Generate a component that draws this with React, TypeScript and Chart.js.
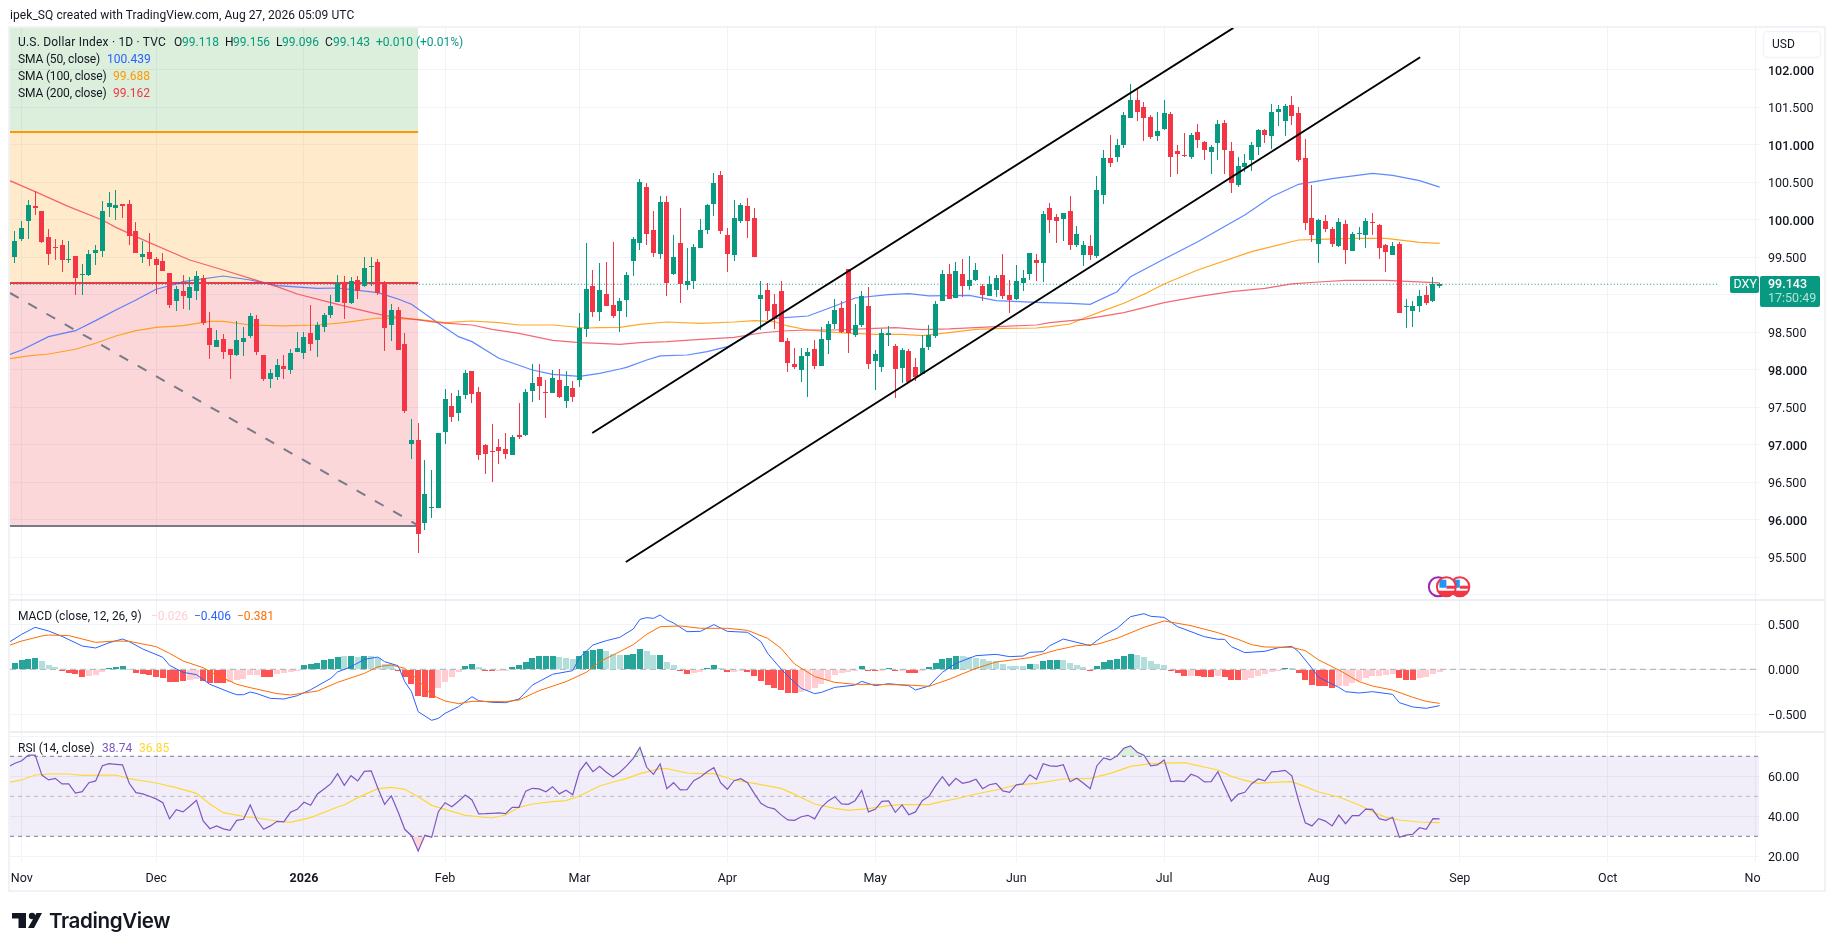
import { useEffect, useRef } from "react"
import { Chart, registerables } from "chart.js"

// Register Chart.js components
Chart.register(...registerables)

const FONT = "Roboto, sans-serif"
const INK = "#131722"
const GRID = "#f0f3fa"
const UP = "#089981"
const DOWN = "#f23645"

// Daily candles. Bar 0 is the first candle on the left.
const opens = [
  99.5, 99.75, 99.98, 100.19, 100.12, 99.77, 99.64, 99.67, 99.46, 99.52,
  99.26, 99.27, 99.56, 99.58, 100.17, 100.16, 100.21, 100.21, 99.85, 99.5,
  99.57, 99.48, 99.45, 99.29, 98.92, 99.05, 98.96, 99.05, 99.23, 98.56,
  98.31, 98.41, 98.28, 98.2, 98.37, 98.45, 98.68, 98.2, 97.88, 97.91,
  98.05, 98.0, 98.24, 98.23, 98.49, 98.4, 98.57, 98.73, 98.91, 99.16,
  98.89, 99.2, 99.12, 99.38, 99.44, 99.16, 98.6, 98.8, 98.35, 97.01,
  97.07, 95.96, 96.16, 96.16, 97.17, 97.52, 97.43, 97.67, 97.99, 97.71,
  97.0, 96.92, 96.97, 96.95, 96.87, 97.13, 97.13, 97.72, 97.91, 97.71,
  97.69, 97.87, 97.59, 97.76, 97.87, 98.55, 99.12, 98.77, 99.01, 98.87,
  98.79, 98.93, 99.45, 99.69, 100.44, 99.87, 99.55, 100.24, 99.28, 99.69,
  99.13, 99.19, 99.63, 99.87, 100.21, 100.6, 99.8, 99.53, 99.99, 100.19,
  100.03, 98.95, 99.07, 98.88, 99.05, 98.39, 98.08, 98.0, 98.19, 98.28,
  98.05, 98.4, 98.61, 98.83, 99.35, 98.47, 98.6, 98.85, 98.12, 98.04,
  98.47, 98.32, 98.03, 98.25, 98.04, 97.95, 98.31, 98.45, 98.92, 99.28,
  98.96, 99.28, 99.12, 99.2, 99.12, 98.99, 99.07, 99.27, 99.0, 98.95,
  99.16, 99.28, 99.47, 99.43, 100.16, 100.04, 100.01, 100.12, 99.67, 99.53,
  99.65, 99.52, 100.33, 100.83, 100.84, 101.0, 101.36, 101.6, 101.51, 101.37,
  101.12, 101.21, 101.41, 100.92, 100.87, 100.84, 101.17, 101.04, 100.91, 101.03,
  101.29, 100.92, 100.47, 100.71, 100.8, 100.97, 101.2, 101.12, 101.44, 101.32,
  101.53, 101.43, 100.83, 100.03, 99.68, 99.99, 99.88, 99.65, 99.95, 99.59,
  99.81, 99.8, 99.97, 99.93, 99.67, 99.53, 99.68, 98.84, 98.79, 98.85,
  99.0, 98.92, 99.118,
]
const highs = [
  99.85, 99.98, 100.27, 100.38, 100.12, 99.88, 99.75, 99.73, 99.72, 99.52,
  99.41, 99.6, 99.67, 100.25, 100.37, 100.4, 100.21, 100.27, 99.97, 99.72,
  99.82, 99.51, 99.56, 99.29, 99.12, 99.27, 99.24, 99.32, 99.27, 98.77,
  98.53, 98.48, 98.28, 98.65, 98.57, 98.76, 98.73, 98.2, 98.01, 98.15,
  98.2, 98.28, 98.51, 98.51, 98.87, 98.64, 98.76, 99.0, 99.27, 99.25,
  99.24, 99.25, 99.5, 99.5, 99.48, 99.18, 98.88, 98.84, 98.49, 97.35,
  97.29, 96.8, 96.67, 97.16, 97.75, 97.69, 97.73, 98.0, 97.99, 97.77,
  97.01, 97.28, 97.08, 97.16, 97.13, 97.56, 97.75, 98.08, 98.08, 97.87,
  98.0, 98.01, 97.99, 97.85, 98.76, 99.69, 99.33, 99.42, 99.44, 99.7,
  98.96, 99.31, 99.77, 100.55, 100.49, 100.12, 100.32, 100.32, 99.8, 100.16,
  99.63, 99.68, 100.01, 100.21, 100.63, 100.65, 99.89, 100.27, 100.23, 100.29,
  100.16, 99.19, 99.16, 99.01, 99.19, 98.43, 98.29, 98.29, 98.29, 98.4,
  98.57, 98.65, 98.95, 98.92, 99.35, 98.88, 99.05, 99.11, 98.27, 98.55,
  98.59, 98.35, 98.29, 98.28, 98.16, 98.47, 98.6, 98.92, 99.33, 99.41,
  99.44, 99.48, 99.52, 99.43, 99.15, 99.25, 99.27, 99.55, 99.2, 99.4,
  99.33, 99.56, 99.55, 100.12, 100.23, 100.08, 100.09, 100.32, 99.92, 99.72,
  99.8, 100.59, 100.93, 101.13, 101.08, 101.44, 101.81, 101.76, 101.57, 101.4,
  101.44, 101.6, 101.44, 101.0, 101.16, 101.16, 101.28, 101.05, 101.0, 101.33,
  101.33, 101.04, 100.84, 100.88, 101.04, 101.21, 101.21, 101.55, 101.53, 101.55,
  101.65, 101.51, 101.08, 100.47, 100.01, 100.07, 99.91, 100.03, 100.0, 99.84,
  99.91, 100.03, 100.09, 99.95, 99.68, 99.71, 99.71, 98.95, 98.92, 99.07,
  99.12, 99.24, 99.156,
]
const lows = [
  99.43, 99.72, 99.74, 100.07, 99.69, 99.4, 99.46, 99.3, 99.43, 99.0,
  99.0, 99.25, 99.4, 99.51, 100.04, 100.0, 100.02, 99.67, 99.56, 99.42,
  99.39, 99.01, 99.32, 98.83, 98.78, 98.81, 98.8, 98.93, 98.6, 98.15,
  98.3, 98.15, 97.88, 98.19, 98.19, 98.43, 98.2, 97.85, 97.76, 97.87,
  97.88, 97.95, 98.24, 98.15, 98.25, 98.17, 98.51, 98.69, 98.91, 98.68,
  98.88, 98.95, 99.1, 99.12, 99.0, 98.25, 98.39, 98.27, 97.43, 96.81,
  95.56, 95.87, 96.03, 96.16, 97.01, 97.31, 97.32, 97.61, 97.56, 96.8,
  96.61, 96.51, 96.75, 96.81, 96.87, 97.08, 97.12, 97.57, 97.6, 97.36,
  97.69, 97.63, 97.49, 97.57, 97.77, 98.44, 98.71, 98.65, 98.85, 98.69,
  98.51, 98.71, 99.25, 99.6, 99.67, 99.51, 99.48, 98.99, 99.27, 98.89,
  99.07, 99.08, 99.63, 99.81, 100.05, 99.81, 99.31, 99.45, 99.96, 99.76,
  99.51, 98.53, 98.67, 98.55, 98.37, 97.97, 98.01, 97.84, 97.64, 98.01,
  98.05, 98.21, 98.55, 98.49, 98.23, 98.44, 98.57, 98.01, 97.73, 97.97,
  98.32, 97.63, 97.83, 97.84, 97.85, 97.95, 98.27, 98.43, 98.92, 98.95,
  98.96, 98.97, 99.07, 99.19, 98.92, 98.99, 98.97, 98.95, 98.76, 98.93,
  99.05, 99.2, 99.19, 99.17, 99.83, 99.69, 99.72, 99.6, 99.64, 99.39,
  99.47, 99.49, 100.21, 100.71, 100.77, 100.96, 101.36, 101.32, 101.05, 101.08,
  101.05, 101.2, 100.57, 100.61, 100.84, 100.81, 100.96, 100.8, 100.61, 100.8,
  100.61, 100.36, 100.44, 100.64, 100.65, 100.87, 101.03, 100.95, 101.25, 101.12,
  101.27, 100.77, 99.87, 99.71, 99.43, 99.84, 99.64, 99.64, 99.41, 99.59,
  99.73, 99.63, 99.8, 99.48, 99.31, 99.53, 98.76, 98.56, 98.57, 98.77,
  98.87, 98.91, 99.096,
]
const closes = [
  99.72, 99.89, 100.2, 100.16, 99.7, 99.55, 99.63, 99.46, 99.48, 99.23,
  99.28, 99.55, 99.6, 100.12, 100.22, 100.2, 100.19, 99.79, 99.56, 99.55,
  99.48, 99.4, 99.32, 98.87, 99.08, 98.99, 99.11, 99.25, 98.63, 98.33,
  98.4, 98.24, 98.2, 98.4, 98.43, 98.72, 98.24, 97.88, 97.96, 98.07,
  98.01, 98.23, 98.29, 98.44, 98.35, 98.6, 98.73, 98.85, 99.16, 98.89,
  99.19, 99.05, 99.36, 99.39, 99.03, 98.56, 98.8, 98.27, 97.45, 97.07,
  95.81, 96.35, 96.17, 97.16, 97.61, 97.37, 97.65, 97.96, 97.68, 96.87,
  96.88, 96.91, 96.92, 96.88, 97.11, 97.11, 97.71, 97.83, 97.79, 97.69,
  97.89, 97.64, 97.79, 97.64, 98.56, 99.08, 98.77, 99.07, 98.85, 98.72,
  98.92, 99.27, 99.75, 100.51, 99.81, 99.56, 100.24, 99.16, 99.51, 99.15,
  99.19, 99.64, 99.87, 100.2, 100.49, 99.85, 99.55, 100.03, 100.2, 99.99,
  99.51, 99.0, 98.79, 98.68, 98.37, 98.09, 98.04, 98.19, 98.24, 98.05,
  98.41, 98.61, 98.8, 98.51, 98.49, 98.6, 98.99, 98.08, 98.21, 98.49,
  98.49, 98.01, 98.27, 97.84, 97.91, 98.29, 98.47, 98.88, 99.28, 98.95,
  99.32, 99.12, 99.2, 99.33, 99.0, 99.15, 99.23, 98.99, 98.93, 99.19,
  99.23, 99.56, 99.43, 100.08, 100.0, 99.99, 100.09, 99.67, 99.81, 99.67,
  99.53, 100.4, 100.83, 100.76, 101.0, 101.4, 101.6, 101.44, 101.36, 101.11,
  101.19, 101.43, 100.84, 100.88, 100.85, 101.13, 101.07, 100.93, 100.97, 101.28,
  100.93, 100.49, 100.72, 100.76, 101.0, 101.2, 101.13, 101.44, 101.48, 101.52,
  101.39, 100.8, 99.96, 99.8, 100.0, 99.88, 99.68, 99.97, 99.6, 99.81,
  99.83, 99.99, 99.96, 99.63, 99.57, 99.65, 98.76, 98.85, 98.85, 98.99,
  98.89, 99.15, 99.143,
]

// Moving averages as [bar, value] readings
const sma50 = [
  [-1, 98.2], [1, 98.267], [5, 98.444], [9, 98.524], [12, 98.658], [15, 98.8], [18, 98.933], [21, 99.076], [24, 99.147],
  [25, 99.178], [31, 99.253], [35, 99.2], [39, 99.124], [45, 99.089], [48, 99.093], [54, 99.031], [57, 98.947],
  [59, 98.876], [63, 98.622], [66, 98.444], [68, 98.378], [72, 98.156], [77, 98.0], [80, 97.942], [84, 97.916],
  [87, 97.956], [90, 98.013], [91, 98.035], [94, 98.133], [96, 98.187], [100, 98.2], [103, 98.244], [106, 98.311],
  [109, 98.453], [113, 98.689], [118, 98.72], [122, 98.853], [125, 98.96], [130, 99.004], [133, 99.018], [136, 98.987],
  [142, 98.996], [146, 98.924], [152, 98.902], [157, 98.889], [160, 98.876], [164, 99.044], [166, 99.244], [171, 99.48],
  [176, 99.711], [183, 100.067], [187, 100.311], [191, 100.476], [196, 100.551], [202, 100.622], [205, 100.596],
  [209, 100.524], [212, 100.439],
]
const sma100 = [
  [-1, 98.147], [2, 98.187], [5, 98.213], [9, 98.276], [12, 98.356], [15, 98.453], [18, 98.524], [21, 98.569], [25, 98.591],
  [29, 98.649], [31, 98.649], [35, 98.6], [40, 98.587], [45, 98.6], [49, 98.631], [54, 98.693], [60, 98.676], [64, 98.631],
  [68, 98.653], [72, 98.631], [75, 98.6], [80, 98.6], [85, 98.56], [87, 98.564], [90, 98.569], [93, 98.609], [97, 98.64],
  [102, 98.622], [107, 98.64], [110, 98.658], [113, 98.644], [115, 98.587], [118, 98.533], [122, 98.502], [125, 98.489],
  [128, 98.476], [132, 98.476], [135, 98.458], [139, 98.498], [143, 98.542], [147, 98.556], [152, 98.56], [154, 98.578],
  [157, 98.613], [159, 98.689], [162, 98.791], [165, 98.889], [168, 99.009], [171, 99.147], [176, 99.333], [184, 99.578],
  [187, 99.644], [191, 99.733], [194, 99.742], [199, 99.756], [204, 99.756], [209, 99.702], [212, 99.688],
]
const sma200 = [
  [-1, 100.533], [3, 100.378], [8, 100.178], [13, 100.0], [15, 99.902], [20, 99.698], [26, 99.467], [31, 99.333], [35, 99.222],
  [39, 99.111], [42, 99.013], [47, 98.898], [51, 98.809], [55, 98.724], [60, 98.667], [63, 98.631], [68, 98.6], [71, 98.542],
  [75, 98.489], [80, 98.396], [84, 98.364], [87, 98.355], [90, 98.342], [93, 98.364], [97, 98.378], [102, 98.409], [107, 98.436],
  [111, 98.493], [114, 98.52], [118, 98.533], [122, 98.533], [127, 98.551], [131, 98.564], [135, 98.538], [139, 98.547],
  [146, 98.578], [152, 98.6], [154, 98.631], [159, 98.676], [165, 98.764], [171, 98.898], [176, 98.978], [181, 99.044],
  [186, 99.089], [190, 99.147], [194, 99.173], [198, 99.196], [204, 99.196], [212, 99.162],
]

// MACD pane
const macdHist = [
  0.074, 0.101, 0.119, 0.13, 0.093, 0.052, 0.03, -0.015, -0.037, -0.056,
  -0.082, -0.071, -0.06, -0.026, 0.015, 0.026, 0.041, 0.007, -0.037, -0.056,
  -0.067, -0.082, -0.101, -0.138, -0.138, -0.134, -0.123, -0.104, -0.127, -0.149,
  -0.149, -0.149, -0.142, -0.115, -0.104, -0.06, -0.06, -0.082, -0.082, -0.056,
  -0.045, -0.026, -0.004, 0.045, 0.06, 0.074, 0.101, 0.119, 0.142, 0.145,
  0.153, 0.142, 0.153, 0.153, 0.127, 0.063, 0.06, -0.019, -0.086, -0.168,
  -0.302, -0.309, -0.317, -0.209, -0.145, -0.089, -0.026, 0.037, 0.063, 0.03,
  -0.007, -0.007, -0.007, -0.004, 0.022, 0.045, 0.086, 0.123, 0.145, 0.145,
  0.153, 0.142, 0.13, 0.119, 0.153, 0.209, 0.22, 0.231, 0.209, 0.175,
  0.164, 0.164, 0.175, 0.231, 0.209, 0.164, 0.164, 0.086, 0.052, -0.015,
  -0.048, -0.037, -0.026, 0.019, 0.052, 0.019, -0.026, -0.026, -0.015, -0.026,
  -0.071, -0.127, -0.171, -0.205, -0.227, -0.261, -0.261, -0.25, -0.227, -0.205,
  -0.16, -0.115, -0.06, -0.037, -0.026, -0.004, 0.041, -0.007, -0.015, -0.004,
  0.019, -0.015, -0.015, -0.037, -0.037, -0.015, 0.03, 0.074, 0.119, 0.13,
  0.153, 0.153, 0.142, 0.127, 0.119, 0.097, 0.097, 0.063, 0.041, 0.041,
  0.041, 0.063, 0.063, 0.097, 0.108, 0.108, 0.108, 0.074, 0.052, 0.03,
  -0.007, 0.041, 0.086, 0.108, 0.119, 0.153, 0.175, 0.164, 0.142, 0.097,
  0.063, 0.052, -0.007, -0.037, -0.071, -0.071, -0.071, -0.082, -0.082, -0.074,
  -0.086, -0.119, -0.119, -0.119, -0.097, -0.074, -0.052, -0.03, -0.007, 0.015,
  0.011, -0.041, -0.119, -0.175, -0.186, -0.186, -0.209, -0.186, -0.186, -0.153,
  -0.13, -0.097, -0.074, -0.074, -0.063, -0.052, -0.097, -0.119, -0.119, -0.097,
  -0.086, -0.052, -0.026,
]
// T rising above zero, L falling above zero, R falling below zero, P rising below zero
const macdHistTone =
  "TTTTLLLRRRRPPPTTTLRRRRRRRRPPRRRRPPPPPRRPPPPTTTTTTLTLTLLLLRRRRRRPPPPTTLRRPP" +
  "TTTTTTTLLLTTTTLLLTTTLLTLLRRPPTTLRPPRRRRRRRRPPPPPPPPPTRRPTRPRRPTTTTTLLLLLLLLLL" +
  "TLTTTLLLLRTTTTTTLLLLLRRRPRRRPRRRPPPPPPTLRRRRRRPPPPPPPPPRRRPPPP"
const macdLine = [
  [-1, 0.297], [1, 0.391], [3, 0.469], [5, 0.428], [7, 0.368], [10, 0.26], [12, 0.238], [14, 0.297], [16, 0.338], [17, 0.309],
  [19, 0.227], [22, 0.134], [23, 0.044], [25, -0.034], [27, -0.06], [29, -0.168], [32, -0.258], [33, -0.284], [34, -0.284],
  [35, -0.254], [36, -0.272], [38, -0.325], [40, -0.332], [42, -0.295], [44, -0.228], [47, -0.101], [48, -0.03], [50, 0.029],
  [52, 0.111], [54, 0.137], [55, 0.085], [57, 0.04], [58, -0.138], [59, -0.25], [60, -0.474], [62, -0.57], [63, -0.548],
  [64, -0.492], [66, -0.418], [68, -0.306], [69, -0.351], [71, -0.369], [73, -0.373], [75, -0.332], [77, -0.176], [80, -0.056],
  [83, -0.015], [84, 0.13], [86, 0.271], [88, 0.32], [90, 0.357], [92, 0.45], [93, 0.558], [94, 0.577], [95, 0.569], [96, 0.607],
  [97, 0.551], [98, 0.517], [100, 0.42], [102, 0.424], [104, 0.499], [106, 0.424], [109, 0.413], [111, 0.309], [112, 0.178],
  [114, 0.003], [116, -0.146], [117, -0.213], [119, -0.272], [120, -0.258], [122, -0.202], [125, -0.176], [126, -0.135],
  [128, -0.183], [130, -0.161], [133, -0.183], [134, -0.231], [136, -0.187], [138, -0.034], [140, 0.066], [143, 0.152],
  [146, 0.167], [148, 0.141], [150, 0.148], [151, 0.189], [153, 0.197], [154, 0.264], [156, 0.338], [160, 0.264], [162, 0.376],
  [164, 0.458], [166, 0.588], [168, 0.621], [169, 0.592], [171, 0.58], [173, 0.476], [175, 0.42], [177, 0.364], [179, 0.335],
  [180, 0.335], [181, 0.253], [183, 0.186], [186, 0.201], [188, 0.241], [190, 0.256], [191, 0.197], [193, 0.011], [194, -0.09],
  [197, -0.202], [198, -0.25], [200, -0.265], [202, -0.25], [205, -0.28], [206, -0.373], [208, -0.421], [210, -0.436], [212, -0.406],
]
const macdSignal = [
  [-1, 0.264], [1, 0.316], [4, 0.372], [5, 0.383], [8, 0.376], [12, 0.301], [15, 0.316], [17, 0.312], [21, 0.253], [23, 0.178],
  [25, 0.093], [28, 0.018], [30, -0.064], [33, -0.168], [35, -0.205], [39, -0.272], [41, -0.287], [45, -0.243], [48, -0.146],
  [52, -0.045], [54, 0.029], [56, 0.048], [58, 0.011], [60, -0.12], [62, -0.287], [64, -0.354], [66, -0.384], [68, -0.358],
  [73, -0.362], [75, -0.343], [78, -0.239], [82, -0.138], [85, -0.034], [87, 0.085], [90, 0.197], [92, 0.275], [94, 0.391],
  [96, 0.476], [99, 0.484], [102, 0.458], [106, 0.458], [109, 0.435], [112, 0.346], [114, 0.234], [116, 0.059], [119, -0.082],
  [122, -0.146], [125, -0.168], [128, -0.168], [133, -0.176], [136, -0.19], [139, -0.112], [143, 0.011], [146, 0.081], [151, 0.13],
  [155, 0.215], [158, 0.264], [161, 0.279], [164, 0.346], [168, 0.469], [171, 0.54], [175, 0.487], [179, 0.409], [182, 0.335],
  [184, 0.275], [186, 0.249], [190, 0.245], [192, 0.208], [194, 0.104], [197, -0.008], [200, -0.138], [202, -0.187], [205, -0.232],
  [208, -0.313], [210, -0.358], [212, -0.381],
]

// RSI pane, first value belongs to the bar just left of the pane
const rsiLine = [
  64.8, 66.5, 67.8, 70.6, 70.6, 60.6, 58.2, 59.0, 56.2, 56.2, 51.6,
  52.3, 56.8, 57.7, 65.3, 66.3, 66.0, 65.7, 56.5, 51.8, 51.2,
  50.0, 48.7, 46.8, 38.7, 43.3, 42.2, 45.0, 48.0, 37.7, 33.8,
  35.2, 33.7, 33.0, 38.0, 38.5, 45.7, 38.0, 33.5, 35.2, 37.5,
  37.2, 42.0, 43.5, 47.0, 45.5, 51.2, 53.7, 56.3, 61.3, 55.5,
  60.3, 57.7, 62.5, 62.7, 54.0, 46.0, 50.2, 42.3, 33.5, 30.3,
  22.7, 30.5, 29.5, 42.3, 46.8, 44.8, 47.5, 50.6, 48.2, 41.2,
  41.3, 41.5, 41.7, 41.3, 44.5, 44.5, 52.6, 54.0, 53.7, 52.3,
  54.8, 51.2, 53.0, 50.8, 62.5, 67.0, 62.3, 65.0, 62.0, 59.7,
  62.0, 65.2, 69.0, 74.5, 64.5, 61.0, 66.2, 53.8, 56.8, 53.2,
  53.3, 57.8, 59.7, 62.3, 64.3, 56.8, 53.5, 57.8, 58.8, 56.8,
  51.5, 46.5, 44.5, 43.7, 40.7, 38.2, 38.0, 39.8, 40.5, 38.7,
  44.5, 47.7, 49.8, 46.2, 46.0, 47.8, 53.0, 42.2, 43.5, 47.5,
  47.7, 42.0, 45.7, 40.8, 42.2, 47.8, 50.0, 55.3, 59.8, 55.3,
  59.0, 56.5, 57.2, 58.5, 53.8, 55.8, 56.5, 52.7, 52.0, 55.7,
  56.2, 60.8, 58.5, 66.3, 65.2, 65.0, 65.8, 57.3, 59.0, 56.5,
  53.8, 65.3, 69.2, 68.2, 70.2, 74.0, 75.2, 72.0, 70.5, 65.2,
  65.7, 68.2, 57.3, 57.7, 57.3, 61.0, 59.8, 57.2, 57.3, 62.3,
  54.8, 47.6, 51.0, 52.0, 56.2, 58.7, 57.7, 62.2, 62.5, 63.0,
  60.2, 47.8, 36.8, 35.2, 38.8, 37.6, 35.2, 40.6, 36.3, 40.3,
  40.3, 43.6, 43.5, 38.8, 38.0, 39.5, 29.5, 30.6, 31.0, 34.3,
  33.5, 38.8, 38.74,
]
const rsiAverage = [
  [-1, 56.98], [1, 58.15], [3, 60.65], [5, 61.15], [8, 61.15], [10, 60.48], [15, 60.65], [17, 58.82], [21, 56.65], [24, 54.32],
  [27, 51.48], [29, 46.15], [31, 41.82], [34, 39.98], [36, 39.15], [39, 37.65], [41, 36.98], [44, 39.32], [48, 44.65], [49, 45.65],
  [51, 49.32], [54, 53.82], [56, 54.48], [58, 53.48], [60, 49.82], [62, 45.48], [64, 43.48], [67, 40.48], [71, 39.15], [73, 40.65],
  [75, 44.48], [77, 46.15], [80, 47.32], [82, 47.82], [84, 50.15], [87, 55.15], [89, 57.15], [91, 58.82], [93, 61.32], [96, 63.82],
  [97, 63.82], [100, 61.65], [102, 61.32], [104, 61.32], [107, 58.15], [110, 56.48], [114, 53.98], [116, 50.98], [119, 46.15],
  [122, 43.98], [124, 42.98], [127, 43.82], [130, 45.32], [132, 45.82], [136, 45.82], [138, 47.48], [140, 48.65], [143, 51.15],
  [146, 53.15], [149, 55.65], [152, 56.48], [156, 58.65], [160, 58.98], [163, 61.48], [166, 64.98], [169, 66.32], [174, 66.82],
  [179, 63.15], [181, 59.98], [183, 58.0], [185, 56.48], [187, 56.98], [190, 57.32], [192, 54.82], [194, 52.15], [197, 49.65],
  [200, 45.65], [202, 42.32], [204, 39.48], [206, 38.15], [209, 37.15], [212, 36.85],
]

// Axis ticks
const priceTicks = [95, 95.5, 96, 96.5, 97, 97.5, 98, 98.5, 99, 99.5, 100, 100.5, 101, 101.5, 102]
const macdTicks = [-0.5, 0, 0.5]
const rsiTicks = [20, 40, 60, 80]
const monthBars = [1, 21, 43, 64, 84, 106, 128, 149, 171, 194, 215, 237, 259]
const monthLabels = ["Nov", "Dec", "2026", "Feb", "Mar", "Apr", "May", "Jun", "Jul", "Aug", "Sep", "Oct", "Nov"]

// Hand drawn objects, [bar, price]
const channelUpper = [[85.9, 97.16], [181.3, 102.56]]
const channelLower = [[90.9, 95.44], [209.1, 102.17]]
const shortTakeProfit = 101.173
const shortEntry = 99.16
const shortStop = 95.92
const shortPath = [[-0.75, 99.027], [60, 95.927]]

const lastPrice = 99.143
const eventBars = [212, 215, 213]
const eventTypes = ["earnings", "flag", "flag"]

const X_MIN = -0.744
const X_MAX = 259.52

const toPoints = (pairs: number[][]) => pairs.map(([x, y]) => ({ x, y }))
const flatLine = (y: number, from = X_MIN, to = X_MAX) => [{ x: from, y }, { x: to, y }]
const toneColor: Record<string, string> = { T: "#26a69a", L: "#b2dfdb", R: "#ff5252", P: "#ffcdd2" }

const plainLine = {
  type: "line" as const,
  pointRadius: 0,
  tension: 0,
  fill: false,
  borderWidth: 1.2,
}

const drawFlag = (ctx: CanvasRenderingContext2D, x: number, y: number) => {
  ctx.save()
  ctx.beginPath()
  ctx.arc(x, y, 9.5, 0, Math.PI * 2)
  ctx.fillStyle = "#fff"
  ctx.fill()
  ctx.save()
  ctx.clip()
  ctx.fillStyle = DOWN
  ctx.fillRect(x - 10, y + 4, 20, 7)
  ctx.fillRect(x, y - 1, 10, 3)
  ctx.fillStyle = "#2196f3"
  ctx.fillRect(x - 7, y - 7, 7, 8)
  ctx.restore()
  ctx.strokeStyle = DOWN
  ctx.lineWidth = 2
  ctx.stroke()
  ctx.restore()
}

const drawEvents = (chart: any) => {
  const { ctx } = chart
  const x = chart.scales.x
  const yPix = chart.scales.y.getPixelForValue(95.11)
  ctx.save()
  ctx.beginPath()
  ctx.arc(x.getPixelForValue(211.8), yPix, 9.5, 0, Math.PI * 2)
  ctx.fillStyle = "#fff"
  ctx.fill()
  ctx.strokeStyle = "#9c27b0"
  ctx.lineWidth = 2
  ctx.stroke()
  ctx.restore()
  eventBars.forEach((bar, i) => {
    if (eventTypes[i] === "flag") drawFlag(ctx, x.getPixelForValue(bar), yPix)
  })
}

const chrome = {
  id: "chrome",
  // keep the bars on whole pixels like the original renderer does
  beforeDatasetDraw(chart: any, args: any) {
    if (args.meta.type !== "bar") return
    args.meta.data.forEach((el: any) => {
      el.x = el.width % 2 === 1 ? Math.floor(el.x) + 0.5 : Math.round(el.x)
      const top = Math.round(el.y)
      let base = Math.round(el.base)
      if (base === top) base = top + 1
      el.y = top
      el.base = base
    })
  },
  afterDraw(chart: any) {
    const { ctx, chartArea, scales } = chart
    const priceY = scales.y.getPixelForValue(lastPrice)

    // the last month label is cut by the price scale
    ctx.fillStyle = "#fff"
    ctx.fillRect(chartArea.right + 2, chartArea.bottom + 1, 62, 26)

    // pane separators and outer frame
    ctx.fillStyle = "#eceef2"
    ctx.fillRect(chartArea.left, scales.yMacd.top - 1, 1816, 2)
    ctx.fillRect(chartArea.left, scales.yRsi.top - 1, 1816, 2)
    ctx.fillStyle = "#f1f2f5"
    ctx.fillRect(8, 26, 1818, 2)
    ctx.fillRect(8, 890, 1818, 2)
    ctx.fillRect(8, 26, 2, 866)
    ctx.fillRect(1824, 26, 2, 866)

    drawEvents(chart)

    // currency button
    ctx.beginPath()
    ctx.roundRect(1763.5, 31.5, 57, 26, 4)
    ctx.fillStyle = "#fff"
    ctx.fill()
    ctx.strokeStyle = "#f0f3fa"
    ctx.lineWidth = 1.5
    ctx.stroke()
    ctx.fillStyle = INK
    ctx.font = `12px ${FONT}`
    ctx.textBaseline = "middle"
    ctx.textAlign = "left"
    ctx.fillText("USD", 1772, 45)

    // last price tags
    const top = Math.round(priceY) - 8
    ctx.fillStyle = UP
    ctx.beginPath()
    ctx.roundRect(1730, top, 29, 17, 2)
    ctx.fill()
    ctx.beginPath()
    ctx.roundRect(1760, top, 60, 31, 2)
    ctx.fill()
    ctx.fillStyle = "#fff"
    ctx.font = `12.5px ${FONT}`
    ctx.fillText("DXY", 1733.5, top + 9)
    ctx.font = `500 12.5px ${FONT}`
    ctx.fillText("99.143", 1768, top + 9)
    ctx.fillStyle = "rgba(255,255,255,0.7)"
    ctx.font = `12.5px ${FONT}`
    ctx.fillText("17:50:49", 1768, top + 23)
  },
}

function PriceChart() {
  const canvasRef = useRef<HTMLCanvasElement>(null)

  useEffect(() => {
    if (!canvasRef.current) return
    const bars = opens.map((_, i) => i)

    const chart = new Chart(canvasRef.current, {
      type: "line",
      data: {
        datasets: [
          // short position drawing
          {
            ...plainLine, yAxisID: "y", order: 30, borderWidth: 2, borderColor: "#ff9800",
            data: flatLine(shortTakeProfit, X_MIN, 60),
            fill: { target: { value: 102.56 }, below: "rgba(76,175,80,0.2)", above: "transparent" },
          },
          {
            ...plainLine, yAxisID: "y", order: 29, borderWidth: 2, borderColor: DOWN,
            data: flatLine(shortEntry, X_MIN, 60),
            fill: { target: { value: shortTakeProfit }, below: "rgba(255,152,0,0.2)", above: "transparent" },
          },
          {
            ...plainLine, yAxisID: "y", order: 28, borderWidth: 2, borderColor: "#787b86",
            data: flatLine(shortStop, X_MIN, 60),
            fill: { target: { value: shortEntry }, below: "rgba(242,54,69,0.2)", above: "transparent" },
          },
          {
            ...plainLine, yAxisID: "y", order: 27, borderWidth: 2, borderColor: "#787b86", borderDash: [10, 11],
            data: toPoints(shortPath),
          },
          // last price line
          {
            ...plainLine, yAxisID: "y", order: 20, borderWidth: 1, borderColor: UP, borderDash: [1, 2.3],
            data: flatLine(lastPrice, X_MIN, 253.3),
          },
          // moving averages
          { ...plainLine, yAxisID: "y", order: 12, borderColor: "rgba(41,98,255,0.75)", data: toPoints(sma50) },
          { ...plainLine, yAxisID: "y", order: 11, borderColor: "rgba(255,152,0,0.85)", data: toPoints(sma100) },
          { ...plainLine, yAxisID: "y", order: 10, borderColor: "rgba(242,54,69,0.75)", data: toPoints(sma200) },
          // candle wicks and bodies
          {
            type: "bar", yAxisID: "y", order: 6, grouped: false, barThickness: 1, inflateAmount: 0, borderWidth: 0,
            data: bars.map((i) => ({ x: i, y: [lows[i], highs[i]] })),
            backgroundColor: bars.map((i) => (closes[i] >= opens[i] ? UP : DOWN)),
          },
          {
            type: "bar", yAxisID: "y", order: 5, grouped: false, barThickness: 5, inflateAmount: 0, borderWidth: 0,
            data: bars.map((i) => ({ x: i, y: [opens[i], closes[i]] })),
            backgroundColor: bars.map((i) => (closes[i] >= opens[i] ? UP : DOWN)),
          },
          // hand drawn channel
          { ...plainLine, yAxisID: "y", order: 2, borderWidth: 2, borderColor: "#000", data: toPoints(channelUpper) },
          { ...plainLine, yAxisID: "y", order: 2, borderWidth: 2, borderColor: "#000", data: toPoints(channelLower) },

          // MACD
          {
            ...plainLine, yAxisID: "yMacd", order: 9, borderWidth: 1, borderColor: "rgba(120,123,134,0.6)", borderDash: [6, 4],
            data: flatLine(0),
          },
          {
            type: "bar", yAxisID: "yMacd", order: 7, grouped: false, barThickness: 6, inflateAmount: 0, borderWidth: 0,
            data: macdHist.map((y, i) => ({ x: i, y })),
            backgroundColor: macdHist.map((_, i) => toneColor[macdHistTone[i]]),
          },
          { ...plainLine, yAxisID: "yMacd", order: 4, borderWidth: 1, borderColor: "#2962ff", data: toPoints(macdLine) },
          { ...plainLine, yAxisID: "yMacd", order: 3, borderWidth: 1, borderColor: "#ff6d00", data: toPoints(macdSignal) },

          // RSI
          {
            ...plainLine, yAxisID: "yRsi", order: 25, borderWidth: 1, borderColor: "#787b86", borderDash: [4, 4],
            data: flatLine(70),
            fill: { target: { value: 30 }, above: "rgba(126,87,194,0.1)", below: "transparent" },
          },
          {
            ...plainLine, yAxisID: "yRsi", order: 24, borderWidth: 1, borderColor: "rgba(120,123,134,0.5)", borderDash: [4, 4],
            data: flatLine(50),
          },
          {
            ...plainLine, yAxisID: "yRsi", order: 24, borderWidth: 1, borderColor: "#787b86", borderDash: [4, 4],
            data: flatLine(30),
          },
          {
            ...plainLine, yAxisID: "yRsi", order: 23, borderWidth: 0,
            data: rsiLine.map((y, i) => ({ x: i - 1, y })),
            fill: { target: { value: 70 }, above: "rgba(76,175,80,0.2)", below: "transparent" },
          },
          {
            ...plainLine, yAxisID: "yRsi", order: 23, borderWidth: 0,
            data: rsiLine.map((y, i) => ({ x: i - 1, y })),
            fill: { target: { value: 30 }, above: "transparent", below: "rgba(242,54,69,0.2)" },
          },
          { ...plainLine, yAxisID: "yRsi", order: 8, borderWidth: 1.2, borderColor: "#fdd835", data: toPoints(rsiAverage) },
          { ...plainLine, yAxisID: "yRsi", order: 4, borderWidth: 1.2, borderColor: "#7e57c2", data: rsiLine.map((y, i) => ({ x: i - 1, y })) },
        ],
      } as any,
      options: {
        responsive: false,
        animation: false,
        events: [],
        layout: { padding: { left: 10, top: 28, right: 10, bottom: 61 } },
        plugins: { legend: { display: false }, tooltip: { enabled: false }, title: { display: false } },
        scales: {
          x: {
            type: "linear",
            offset: false,
            min: X_MIN,
            max: X_MAX,
            afterFit: (s: any) => { s.height = 28 },
            afterBuildTicks: (s: any) => { s.ticks = monthBars.map((value) => ({ value })) },
            grid: { color: GRID, drawTicks: false, offset: false },
            border: { display: false },
            ticks: {
              autoSkip: false,
              maxRotation: 0,
              padding: 9,
              color: INK,
              font: (c: any) => ({ family: FONT, size: 12.5, weight: c.tick?.value === 43 ? "bold" : "normal" }),
              callback: (v: any) => monthLabels[monthBars.indexOf(v)],
            },
          },
          y: paneAxis(94.933, 102.56, 572, priceTicks, (v) => (v === 95 ? "" : v.toFixed(3)), true),
          yMacd: paneAxis(-0.7005, 0.774, 132, macdTicks, (v) => (v < 0 ? "\u2212" + (-v).toFixed(3) : v.toFixed(3))),
          yRsi: paneAxis(17.15, 82.15, 130, rsiTicks, (v) => (v === 80 ? "" : v.toFixed(2))),
        },
      } as any,
      plugins: [chrome],
    })

    return () => chart.destroy()
  }, [])

  return <canvas ref={canvasRef} width={1835} height={951} style={{ display: "block" }} />
}

function paneAxis(min: number, max: number, weight: number, values: number[], format: (v: number) => string, strongWhole = false) {
  return {
    type: "linear",
    position: "right",
    stack: "panes",
    stackWeight: weight,
    min,
    max,
    afterFit: (s: any) => { s.width = 66 },
    afterBuildTicks: (s: any) => { s.ticks = values.map((value) => ({ value })) },
    grid: { color: GRID, drawTicks: false },
    border: { display: false },
    ticks: {
      autoSkip: false,
      padding: 9,
      labelOffset: 1.5,
      color: INK,
      font: (c: any) => ({
        family: FONT,
        size: 12.5,
        weight: strongWhole && Number.isInteger(c.tick?.value) ? 500 : 400,
      }),
      callback: (v: any) => format(v),
    },
  }
}

function Label({ x, y, color = INK, spacing = 0, children }: { x: number; y: number; color?: string; spacing?: number; children: any }) {
  return (
    <div
      style={{
        position: "absolute",
        left: x,
        top: y - 8,
        lineHeight: "16px",
        fontFamily: FONT,
        fontSize: 12,
        letterSpacing: spacing,
        whiteSpace: "nowrap",
        color,
      }}
    >
      {children}
    </div>
  )
}

export default function App() {
  return (
    <div style={{ position: "fixed", left: 0, top: 0, width: 1835, height: 951, background: "#fff", overflow: "hidden" }}>
      <PriceChart />
      <Label x={10} y={15} spacing={0.07}>ipek_SQ created with TradingView.com, Aug 27, 2026 05:09 UTC</Label>

      <Label x={18} y={42} spacing={0.2}>U.S. Dollar Index · 1D · TVC</Label>
      <Label x={174} y={42}>O</Label>
      <Label x={182} y={42} color={UP}>99.118</Label>
      <Label x={225} y={42}>H</Label>
      <Label x={233} y={42} color={UP}>99.156</Label>
      <Label x={276} y={42}>L</Label>
      <Label x={282} y={42} color={UP}>99.096</Label>
      <Label x={325} y={42}>C</Label>
      <Label x={333} y={42} color={UP}>99.143</Label>
      <Label x={376} y={42} color={UP}>+0.010 (+0.01%)</Label>

      <Label x={18} y={59} spacing={-0.15}>SMA (50, close)</Label>
      <Label x={107} y={59} color="#2962ff">100.439</Label>
      <Label x={18} y={76} spacing={-0.15}>SMA (100, close)</Label>
      <Label x={113} y={76} color="#ff9800">99.688</Label>
      <Label x={18} y={93} spacing={-0.15}>SMA (200, close)</Label>
      <Label x={113} y={93} color={DOWN}>99.162</Label>

      <Label x={18} y={616}>MACD (close, 12, 26, 9)</Label>
      <Label x={151} y={616} color="#ffcdd2">{"\u22120.026"}</Label>
      <Label x={194} y={616} color="#2962ff">{"\u22120.406"}</Label>
      <Label x={237} y={616} color="#ff6d00">{"\u22120.381"}</Label>

      <Label x={18} y={748}>RSI (14, close)</Label>
      <Label x={102} y={748} color="#7e57c2">38.74</Label>
      <Label x={139} y={748} color="#fdd835">36.85</Label>

      <svg width={32} height={17} viewBox="0 0 32 17" style={{ position: "absolute", left: 11, top: 912 }}>
        <path d="M1 1H15V16H7.5V6.5H1Z M25.5 1H31L23 16H17Z" fill={INK} />
        <circle cx={21} cy={4} r={3.2} fill={INK} />
      </svg>
      <div
        style={{
          position: "absolute",
          left: 49,
          top: 907,
          lineHeight: "28px",
          fontFamily: "Inter, sans-serif",
          fontWeight: 600,
          fontSize: 20.6,
          letterSpacing: -0.4,
          color: INK,
        }}
      >
        TradingView
      </div>
    </div>
  )
}
